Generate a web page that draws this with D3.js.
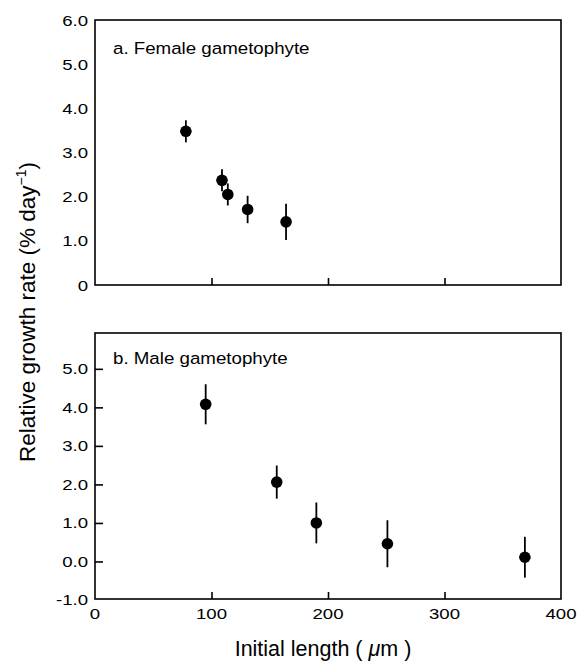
<!DOCTYPE html>
<html>
<head>
<meta charset="utf-8">
<script src="https://cdn.jsdelivr.net/npm/d3@7"></script>
<style>
  html, body { margin: 0; padding: 0; background: #fff; }
  svg text { font-family: "Liberation Sans", Arial, Helvetica, sans-serif; fill: #000; }
</style>
</head>
<body>
<svg id="chart" width="580" height="663"></svg>
<script>
// ---- data ----
const femaleLength = [78, 109, 114, 131, 164];
const femaleRate   = [3.48, 2.37, 2.05, 1.71, 1.43];
const femaleErr    = [0.25, 0.25, 0.25, 0.31, 0.41];

const maleLength = [95, 156, 190, 251, 369];
const maleRate   = [4.08, 2.06, 1.0, 0.46, 0.11];
const maleErr    = [0.52, 0.43, 0.53, 0.61, 0.53];

const xTicks = [0, 100, 200, 300, 400];
const femaleYTicks = [0, 1, 2, 3, 4, 5, 6];
const maleYTicks = [-1, 0, 1, 2, 3, 4, 5];

const panelTitles = ["a. Female gametophyte", "b. Male gametophyte"];

// ---- layout ----
const svg = d3.select("#chart");
const left = 95, right = 561;

const x = d3.scaleLinear().domain([0, 400]).range([left, right]);

const panels = [
  { top: 20, bottom: 285, range: [285, 20], domain: [0, 6], ticks: femaleYTicks,
    fmt: v => v === 0 ? "0" : v.toFixed(1),
    xs: femaleLength, ys: femaleRate, es: femaleErr, title: panelTitles[0], titleDy: 34,
    yTickMarks: false, xLabels: false },
  { top: 333, bottom: 599, range: [600, 333], domain: [-1, 5.93], ticks: maleYTicks,
    fmt: v => v.toFixed(1).replace("−", "-"),
    xs: maleLength, ys: maleRate, es: maleErr, title: panelTitles[1], titleDy: 31,
    yTickMarks: true, xLabels: true }
];

function stretchedText(g, tx, ty, str, size, anchor, sx) {
  return g.append("text")
    .attr("transform", `translate(${tx},${ty}) scale(${sx},1)`)
    .attr("text-anchor", anchor)
    .attr("font-size", size)
    .text(str);
}

panels.forEach(p => {
  const y = d3.scaleLinear().domain(p.domain).range(p.range);
  const g = svg.append("g");

  // frame
  g.append("rect")
    .attr("x", left).attr("y", p.top)
    .attr("width", right - left).attr("height", p.bottom - p.top)
    .attr("fill", "none").attr("stroke", "#000").attr("stroke-width", 1.6);

  // x ticks (inward) at 100, 200, 300
  const xAxis = d3.axisTop(x).tickValues([100, 200, 300]).tickSize(7).tickFormat("");
  g.append("g").attr("transform", `translate(0,${p.bottom})`).call(xAxis)
    .call(s => s.select(".domain").remove())
    .call(s => s.selectAll("line").attr("stroke-width", 1.6));

  // y ticks inward (bottom panel only)
  if (p.yTickMarks) {
    const yAxis = d3.axisRight(y).tickValues(p.ticks.filter(v => v > p.domain[0])).tickSize(8).tickFormat("");
    g.append("g").attr("transform", `translate(${left},0)`).call(yAxis)
      .call(s => s.select(".domain").remove())
      .call(s => s.selectAll("line").attr("stroke-width", 1.6));
  }

  // y tick labels
  p.ticks.forEach(v => {
    const yy = Math.min(y(v), p.bottom);
    stretchedText(g, left - 7, yy + 5.5, p.fmt(v), 15.5, "end", 1.2);
  });

  // x tick labels
  if (p.xLabels) {
    xTicks.forEach(v => {
      stretchedText(g, x(v), p.bottom + 20, String(v), 15.5, "middle", 1.2);
    });
  }

  // panel title
  stretchedText(g, 113, p.top + p.titleDy, p.title, 16.5, "start", 1.135);

  // error bars
  g.selectAll("line.err").data(p.xs).enter().append("line")
    .attr("class", "err")
    .attr("x1", d => x(d)).attr("x2", d => x(d))
    .attr("y1", (d, i) => y(p.ys[i] - p.es[i]))
    .attr("y2", (d, i) => y(p.ys[i] + p.es[i]))
    .attr("stroke", "#000").attr("stroke-width", 1.8);

  // points
  g.selectAll("circle.pt").data(p.xs).enter().append("circle")
    .attr("class", "pt")
    .attr("cx", d => x(d))
    .attr("cy", (d, i) => y(p.ys[i]))
    .attr("r", 5.8)
    .attr("fill", "#000");
});

// axis titles
const xt = svg.append("text")
  .attr("transform", `translate(323,656)`)
  .attr("text-anchor", "middle")
  .attr("font-size", 21.5);
xt.append("tspan").text("Initial length ( ");
xt.append("tspan").attr("font-style", "italic").text("μ");
xt.append("tspan").text("m )");

const yt = svg.append("text")
  .attr("transform", `translate(35,312) rotate(-90)`)
  .attr("text-anchor", "middle")
  .attr("font-size", 22.5);
yt.append("tspan").text("Relative growth rate (% day");
yt.append("tspan").attr("font-size", 14).attr("dy", -9).text("−1");
yt.append("tspan").attr("dy", 9).text(")");
</script>
</body>
</html>
